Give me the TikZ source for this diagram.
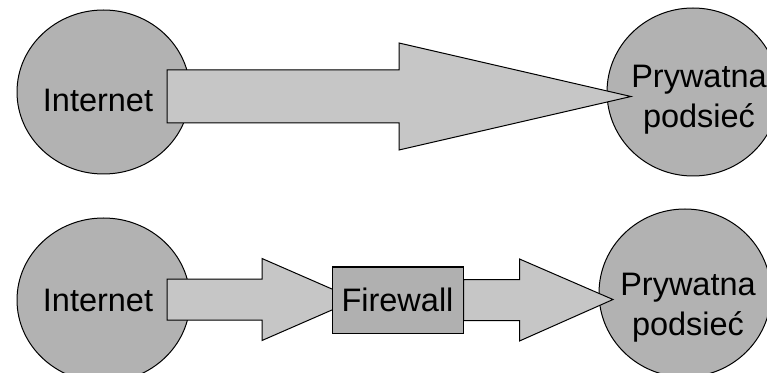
\documentclass[tikz,border=0pt]{standalone}
\usepackage{fontspec}
\setmainfont{Liberation Sans}
\usetikzlibrary{shapes.geometric,calc}
\begin{document}
\begin{tikzpicture}[x=1pt,y=1pt,
  line join=miter,
  cloud/.style={ellipse,draw=black,line width=1pt,fill=circlegray,inner sep=0pt},
  lbl/.style={font=\fontsize{32.5}{40}\selectfont,align=center,inner sep=0pt},
  flow/.style={draw=black,line width=1pt,fill=arrowgray},
  fwbox/.style={draw=black,line width=1pt,fill=boxgray,minimum width=131pt,minimum height=66pt,inner sep=0pt}]
\definecolor{circlegray}{RGB}{178,178,178}
\definecolor{arrowgray}{RGB}{198,198,198}
\definecolor{boxgray}{RGB}{176,176,176}
\useasboundingbox (0,0) rectangle (767,372);

% --- upper row: direct connection ---
\node[cloud,minimum width=173pt,minimum height=164pt] (inetA) at (103.5,280) {};
\node[cloud,minimum width=172pt,minimum height=168pt] (netA) at (693,280) {};
\coordinate (fromA) at (167,275.5);
\coordinate (toA) at (631,275.5);
\draw[flow] (fromA) ++(0,26.5) -- ($(fromA)+(232,26.5)$) -- ($(fromA)+(232,53.5)$)
  -- (toA) -- ($(fromA)+(232,-53.5)$) -- ($(fromA)+(232,-26.5)$) -- ($(fromA)+(0,-26.5)$) -- cycle;
\node[lbl] (inetAtxt) at (98,272) {Internet};
\node[lbl] (netAtxt) at (699,272) {Prywatna\\podsieć};

% --- lower row: through the firewall ---
\node[cloud,minimum width=173pt,minimum height=164pt] (inetB) at (103.5,72) {};
\node[cloud,minimum width=172pt,minimum height=168pt] (netB) at (685,79) {};
\coordinate (fromB) at (167,72.5);
\coordinate (toB) at (356,72.5);
\draw[flow] (fromB) ++(0,20.5) -- ($(fromB)+(95,20.5)$) -- ($(fromB)+(95,41)$)
  -- (toB) -- ($(fromB)+(95,-41)$) -- ($(fromB)+(95,-20.5)$) -- ($(fromB)+(0,-20.5)$) -- cycle;
\node[fwbox,font=\fontsize{32.5}{40}\selectfont] (fw) at (397.5,72) {Firewall};
\coordinate (fromC) at (fw.east);
\coordinate (toC) at (613,72.5);
\draw[flow] ($(fromC)+(0,20.5)$) -- ($(fromC)+(56,20.5)$) -- ($(fromC)+(56,41)$)
  -- (toC) -- ($(fromC)+(56,-41)$) -- ($(fromC)+(56,-20.5)$) -- ($(fromC)+(0,-20.5)$) -- cycle;
\node[lbl] (inetBtxt) at (98,72) {Internet};
\node[lbl] (netBtxt) at (688,64) {Prywatna\\podsieć};
\end{tikzpicture}
\end{document}
